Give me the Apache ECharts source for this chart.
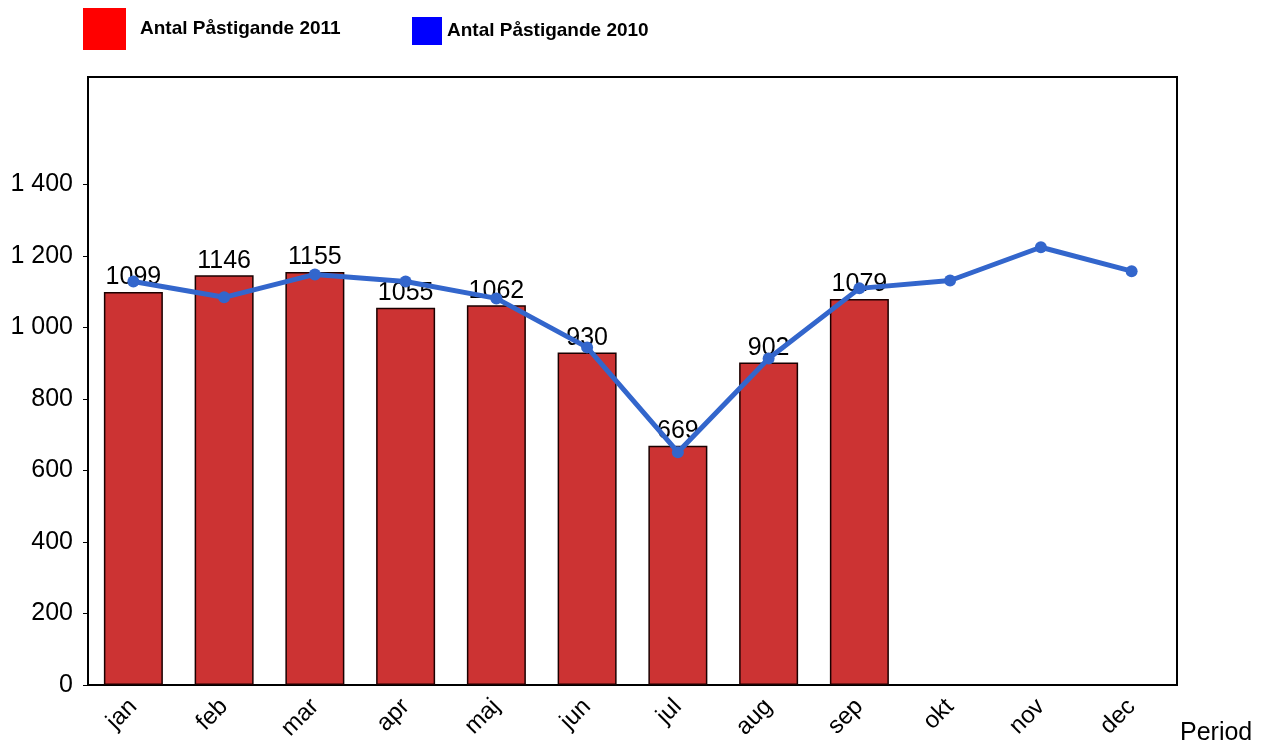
<!DOCTYPE html>
<html>
<head>
<meta charset="utf-8">
<script src="https://cdn.jsdelivr.net/npm/echarts@6/dist/echarts.min.js"></script>
<style>
    html, body { margin: 0; padding: 0; background: #fff; }
    #chart { width: 1268px; height: 747px; }
</style>
</head>
<body>
<div id="chart"></div>
<script>
// data
var months = ["jan", "feb", "mar", "apr", "maj", "jun", "jul", "aug", "sep", "okt", "nov", "dec"];
var antal2011 = [1099, 1146, 1155, 1055, 1062, 930, 669, 902, 1079];
var antal2010 = [1128, 1084, 1148, 1128, 1081, 944, 651, 913, 1109, 1131, 1224, 1157];
var yTicks = [0, 200, 400, 600, 800, 1000, 1200, 1400];

var myChart = echarts.init(document.getElementById('chart'));

function fmt(v) {
    // 1400 -> "1 400"
    return String(v).replace(/\B(?=(\d{3})+(?!\d))/g, ' ');
}

var option = {
    animation: false,
    textStyle: { fontFamily: 'Liberation Sans, Arial, sans-serif' },
    legend: [
        {
            data: [{ name: 'Antal Påstigande 2011', itemStyle: { color: '#ff0000', borderWidth: 0 } }],
            left: 83, top: 8, padding: 0,
            icon: 'rect', itemWidth: 43, itemHeight: 42,
            textStyle: { fontSize: 19, fontWeight: 'bold', color: '#000', padding: [0, 0, 0, 9] }
        },
        {
            data: [{ name: 'Antal Påstigande 2010', itemStyle: { color: '#0000ff', borderWidth: 0 } }],
            left: 412, top: 17, padding: 0,
            icon: 'rect', itemWidth: 30, itemHeight: 28,
            textStyle: { fontSize: 19, fontWeight: 'bold', color: '#000' }
        }
    ],
    grid: {
        left: 88, right: 91, top: 77, bottom: 62,
        show: true, borderColor: '#000', borderWidth: 2, backgroundColor: '#fff'
    },
    xAxis: {
        type: 'category',
        data: months,
        name: 'Period',
        nameLocation: 'end',
        nameGap: 3,
        nameTextStyle: { fontSize: 25, color: '#000', verticalAlign: 'top', padding: [36, 0, 0, 0] },
        axisLine: { lineStyle: { color: '#000', width: 2 } },
        axisTick: { show: false },
        axisLabel: { rotate: 45, fontSize: 24, color: '#000', margin: 18 }
    },
    yAxis: {
        type: 'value',
        min: 0, max: 1700, interval: 200,
        splitLine: { show: false },
        axisLine: { show: true, lineStyle: { color: '#000', width: 2 } },
        axisTick: { show: true, length: 5, customValues: yTicks, lineStyle: { color: '#000' } },
        axisLabel: { fontSize: 25, color: '#000', margin: 15, customValues: yTicks, formatter: fmt }
    },
    series: [
        {
            name: 'Antal Påstigande 2011',
            type: 'bar',
            data: antal2011,
            barWidth: '65%',
            itemStyle: { color: '#cc3333', borderColor: '#1a0000', borderWidth: 1.5 },
            label: { show: true, position: 'top', fontSize: 25, color: '#000', distance: 2 }
        },
        {
            name: 'Antal Påstigande 2010',
            type: 'line',
            data: antal2010,
            symbol: 'circle',
            symbolSize: 12,
            lineStyle: { color: '#3366cc', width: 5 },
            itemStyle: { color: '#3366cc' },
            z: 5
        }
    ]
};

myChart.setOption(option);
</script>
</body>
</html>
